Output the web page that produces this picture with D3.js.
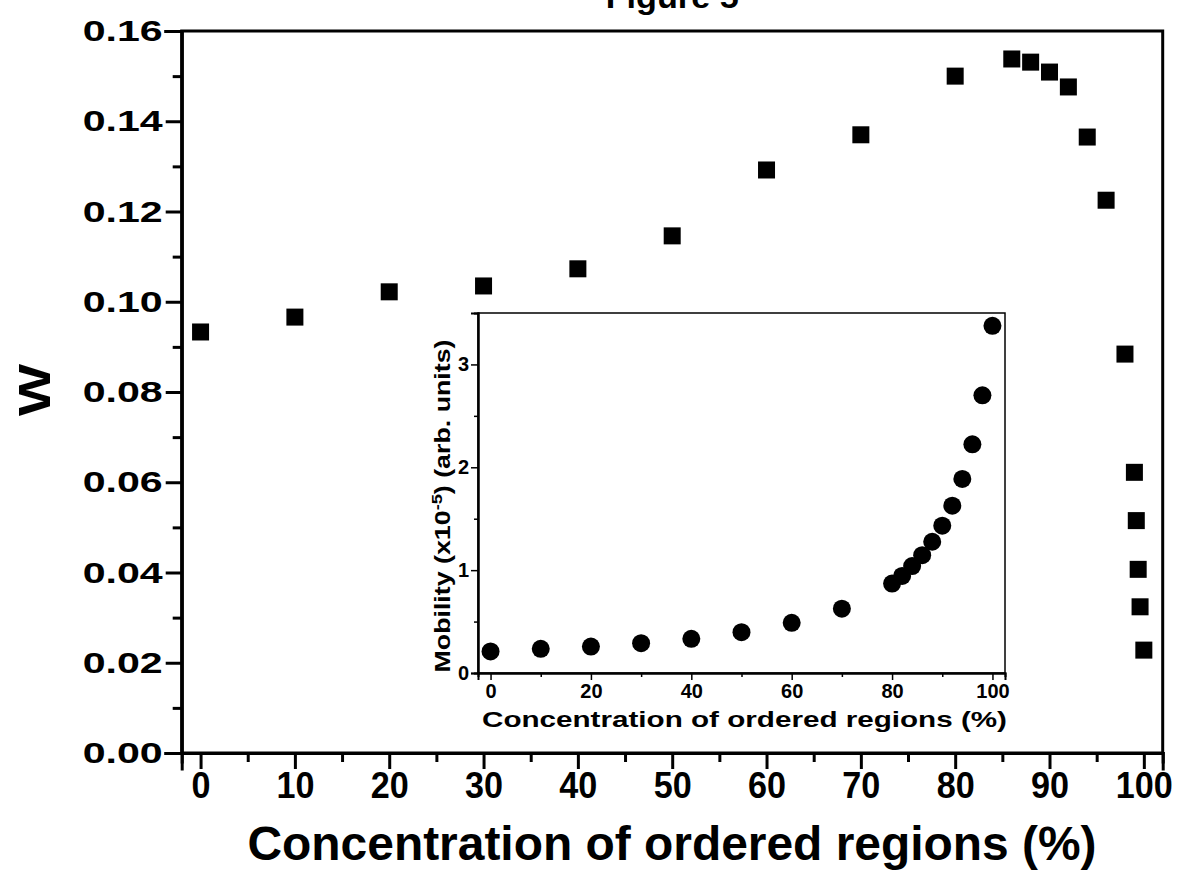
<!DOCTYPE html>
<html>
<head>
<meta charset="utf-8">
<script src="https://d3js.org/d3.v7.min.js"></script>
<style>
  body { margin: 0; background: #fff; }
  text { font-family: "Liberation Sans", Arial, sans-serif; font-weight: bold; fill: #000; }
</style>
</head>
<body>
<svg id="chart" width="1180" height="875"></svg>
<script>
// main plot: W vs concentration
var conc = [0, 10, 20, 30, 40, 50, 60, 70, 80, 86, 88, 90, 92, 94, 96, 98, 99, 99.2, 99.4, 99.6, 100];
var wVals = [0.0933, 0.0966, 0.1022, 0.1035, 0.1073, 0.1146, 0.1292, 0.1370, 0.1500, 0.1538, 0.1531,
             0.1509, 0.1476, 0.1365, 0.1225, 0.0884, 0.0622, 0.0515, 0.0407, 0.0324, 0.0228];
var xTicks = [0, 10, 20, 30, 40, 50, 60, 70, 80, 90, 100];
var xMinor = [5, 15, 25, 35, 45, 55, 65, 75, 85, 95];
var yTicks = [0, 0.02, 0.04, 0.06, 0.08, 0.10, 0.12, 0.14, 0.16];
var yMinor = [0.01, 0.03, 0.05, 0.07, 0.09, 0.11, 0.13, 0.15];

// inset: mobility vs concentration
var insetConc = [0, 10, 20, 30, 40, 50, 60, 70, 80, 82, 84, 86, 88, 90, 92, 94, 96, 98, 100];
var mobility = [0.21, 0.235, 0.257, 0.29, 0.332, 0.397, 0.488, 0.625, 0.869, 0.944, 1.04, 1.145,
                1.276, 1.432, 1.627, 1.887, 2.223, 2.70, 3.375];
var insetXTicks = [0, 20, 40, 60, 80, 100];
var insetXMinor = [10, 30, 50, 70, 90];
var insetYTicks = [0, 1, 2, 3];
var insetYMinor = [0.5, 1.5, 2.5];

var svg = d3.select("#chart");

var pLeft = 181.7, pRight = 1162.7, pTop = 31, pBottom = 753;

var x = d3.scaleLinear().domain([-2, 102]).range([pLeft, pRight]);
var y = d3.scaleLinear().domain([0, 0.16]).range([pBottom, pTop]);

// frame
svg.append("rect")
    .attr("x", pLeft).attr("y", pTop)
    .attr("width", pRight - pLeft).attr("height", pBottom - pTop)
    .attr("fill", "none").attr("stroke", "#000").attr("stroke-width", 3);

var gx = svg.append("g").attr("class", "main").attr("transform", "translate(0," + pBottom + ")");
gx.append("g").call(d3.axisBottom(x).tickValues(xMinor).tickSize(9).tickFormat(""));
gx.append("g").call(d3.axisBottom(x).tickValues(xTicks).tickSize(16).tickPadding(3).tickFormat(d3.format("d")));

var gy = svg.append("g").attr("class", "main").attr("transform", "translate(" + pLeft + ",0)");
gy.append("g").call(d3.axisLeft(y).tickValues(yMinor).tickSize(9).tickFormat(""));
gy.append("g").call(d3.axisLeft(y).tickValues(yTicks).tickSize(16).tickPadding(3).tickFormat(d3.format(".2f")));

svg.selectAll(".main .domain").attr("stroke-width", 3).attr("stroke-linecap", "square");
svg.selectAll(".main .tick line").attr("stroke-width", 3);

gx.selectAll(".tick text")
    .attr("font-size", 36)
    .attr("textLength", function(d) { return String(d).length * 19; })
    .attr("lengthAdjust", "spacingAndGlyphs");
gy.selectAll(".tick text")
    .attr("font-size", 30)
    .attr("textLength", 80)
    .attr("lengthAdjust", "spacingAndGlyphs");

// squares
svg.append("g").selectAll("rect")
    .data(conc)
    .enter().append("rect")
    .attr("x", function(d) { return x(d) - 8.5; })
    .attr("y", function(d, i) { return y(wVals[i]) - 8.5; })
    .attr("width", 17).attr("height", 17)
    .attr("fill", "#000");

// titles
svg.append("text")
    .attr("x", (pLeft + pRight) / 2).attr("y", 8)
    .attr("text-anchor", "middle").attr("font-size", 32)
    .attr("textLength", 133).attr("lengthAdjust", "spacingAndGlyphs")
    .text("Figure 5");

svg.append("text")
    .attr("x", 672).attr("y", 860)
    .attr("text-anchor", "middle").attr("font-size", 48)
    .attr("textLength", 849).attr("lengthAdjust", "spacingAndGlyphs")
    .text("Concentration of ordered regions (%)");

svg.append("text")
    .attr("transform", "translate(50,390) rotate(-90)")
    .attr("text-anchor", "middle").attr("font-size", 44)
    .attr("textLength", 52).attr("lengthAdjust", "spacingAndGlyphs")
    .text("W");

// inset
var iLeft = 478, iRight = 1005, iTop = 313, iBottom = 673;
var ix = d3.scaleLinear().domain([-2.5, 102.5]).range([iLeft, iRight]);
var iy = d3.scaleLinear().domain([0, 3.5]).range([iBottom, iTop]);

var inset = svg.append("g");
inset.append("rect")
    .attr("x", iLeft).attr("y", iTop)
    .attr("width", iRight - iLeft).attr("height", iBottom - iTop)
    .attr("fill", "#fff").attr("stroke", "#000").attr("stroke-width", 1.5);

var igx = inset.append("g").attr("transform", "translate(0," + iBottom + ")");
igx.append("g").call(d3.axisBottom(ix).tickValues(insetXMinor).tickSize(4).tickFormat(""));
igx.append("g").call(d3.axisBottom(ix).tickValues(insetXTicks).tickSize(7).tickPadding(4).tickFormat(d3.format("d")));

var igy = inset.append("g").attr("transform", "translate(" + iLeft + ",0)");
igy.append("g").call(d3.axisLeft(iy).tickValues(insetYMinor).tickSize(4).tickFormat(""));
igy.append("g").call(d3.axisLeft(iy).tickValues(insetYTicks).tickSize(7).tickPadding(2).tickFormat(d3.format("d")));

inset.selectAll(".domain").attr("stroke-width", 2);
inset.selectAll(".tick line").attr("stroke-width", 1.5);
inset.selectAll(".tick text").attr("font-size", 20);

inset.append("g").selectAll("circle")
    .data(insetConc)
    .enter().append("circle")
    .attr("cx", function(d) { return ix(d); })
    .attr("cy", function(d, i) { return iy(mobility[i]); })
    .attr("r", 9)
    .attr("fill", "#000");

inset.append("text")
    .attr("x", (iLeft + iRight) / 2 + 3).attr("y", 727)
    .attr("text-anchor", "middle").attr("font-size", 22)
    .attr("textLength", 525).attr("lengthAdjust", "spacingAndGlyphs")
    .text("Concentration of ordered regions (%)");

var ylab = inset.append("text")
    .attr("transform", "translate(450,506) rotate(-90)")
    .attr("text-anchor", "middle").attr("font-size", 22)
    .attr("textLength", 333).attr("lengthAdjust", "spacingAndGlyphs");
ylab.append("tspan").text("Mobility (x10");
ylab.append("tspan").attr("font-size", 15).attr("dy", -8).text("-5");
ylab.append("tspan").attr("dy", 8).text(") (arb. units)");
</script>
</body>
</html>
